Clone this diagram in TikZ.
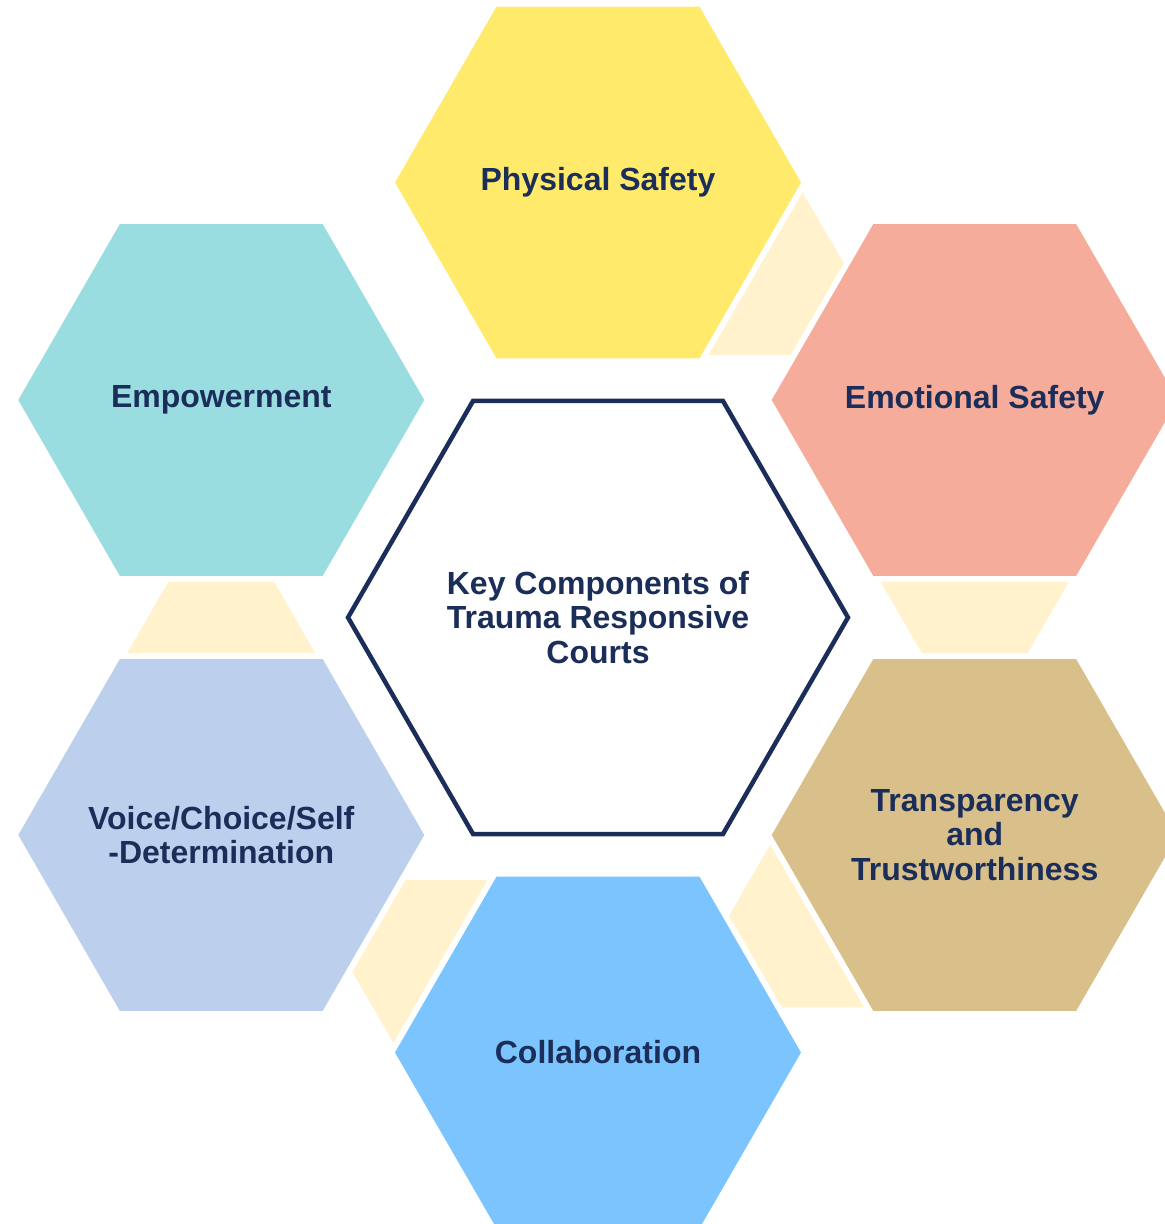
\documentclass[tikz,border=0pt]{standalone}
\usepackage{fontspec}
\setmainfont{Liberation Sans}
\usetikzlibrary{shapes.geometric}
\definecolor{navy}{HTML}{1B2E59}
\definecolor{physfill}{HTML}{FFEA6B}
\definecolor{emotfill}{HTML}{F5AC9A}
\definecolor{transfill}{HTML}{D9C08B}
\definecolor{collabfill}{HTML}{7BC4FE}
\definecolor{voicefill}{HTML}{BCD0EE}
\definecolor{empowfill}{HTML}{9ADDE1}
\definecolor{linkfill}{HTML}{FFF2CC}
\tikzset{
  hexbox/.style={regular polygon, regular polygon sides=6, minimum size=203pt, inner sep=0pt},
  hextext/.style={align=center, text=navy, inner sep=0pt, font=\bfseries\fontsize{16}{17.25}\selectfont},
  link/.style={fill=linkfill}
}

\begin{document}
\begin{tikzpicture}[x=0.5pt, y=0.5pt]
\useasboundingbox (-598,-606.5) rectangle (567,617.5);
\node[hexbox, fill=physfill, label={[hextext]center:Physical Safety}] (phys) at (90:435) {};
\node[hexbox, fill=emotfill, label={[hextext]center:Emotional Safety}] (emot) at (30:435) {};
\node[hexbox, fill=transfill, label={[hextext]center:Transparency\\and\\Trustworthiness}] (trans) at (-30:435) {};
\node[hexbox, fill=collabfill, label={[hextext]center:Collaboration}] (collab) at (-90:435) {};
\node[hexbox, fill=voicefill, label={[hextext]center:Voice/Choice/Self\\-Determination}] (voice) at (-150:435) {};
\node[hexbox, fill=empowfill, label={[hextext]center:Empowerment}] (empow) at (150:435) {};
\node[hexbox, minimum size=250pt, draw=navy, line width=2.25pt, fill=white,
  label={[hextext]center:Key Components of\\Trauma Responsive\\Courts}] (core) at (0,0) {};
\fill[link] (phys.center) ++(-30:182) ++(60:94) -- ++(-120:188) -- ++(0:82) -- ++(60:106) -- cycle;
\fill[link] (emot.center) ++(-90:182) ++(0:94) -- ++(180:188) -- ++(-60:82) -- ++(0:106) -- cycle;
\fill[link] (trans.center) ++(-150:182) ++(-60:94) -- ++(120:188) -- ++(-120:82) -- ++(-60:106) -- cycle;
\fill[link] (collab.center) ++(150:182) ++(240:94) -- ++(60:188) -- ++(180:82) -- ++(240:106) -- cycle;
\fill[link] (voice.center) ++(90:182) ++(180:94) -- ++(0:188) -- ++(120:82) -- ++(180:106) -- cycle;
\end{tikzpicture}
\end{document}
